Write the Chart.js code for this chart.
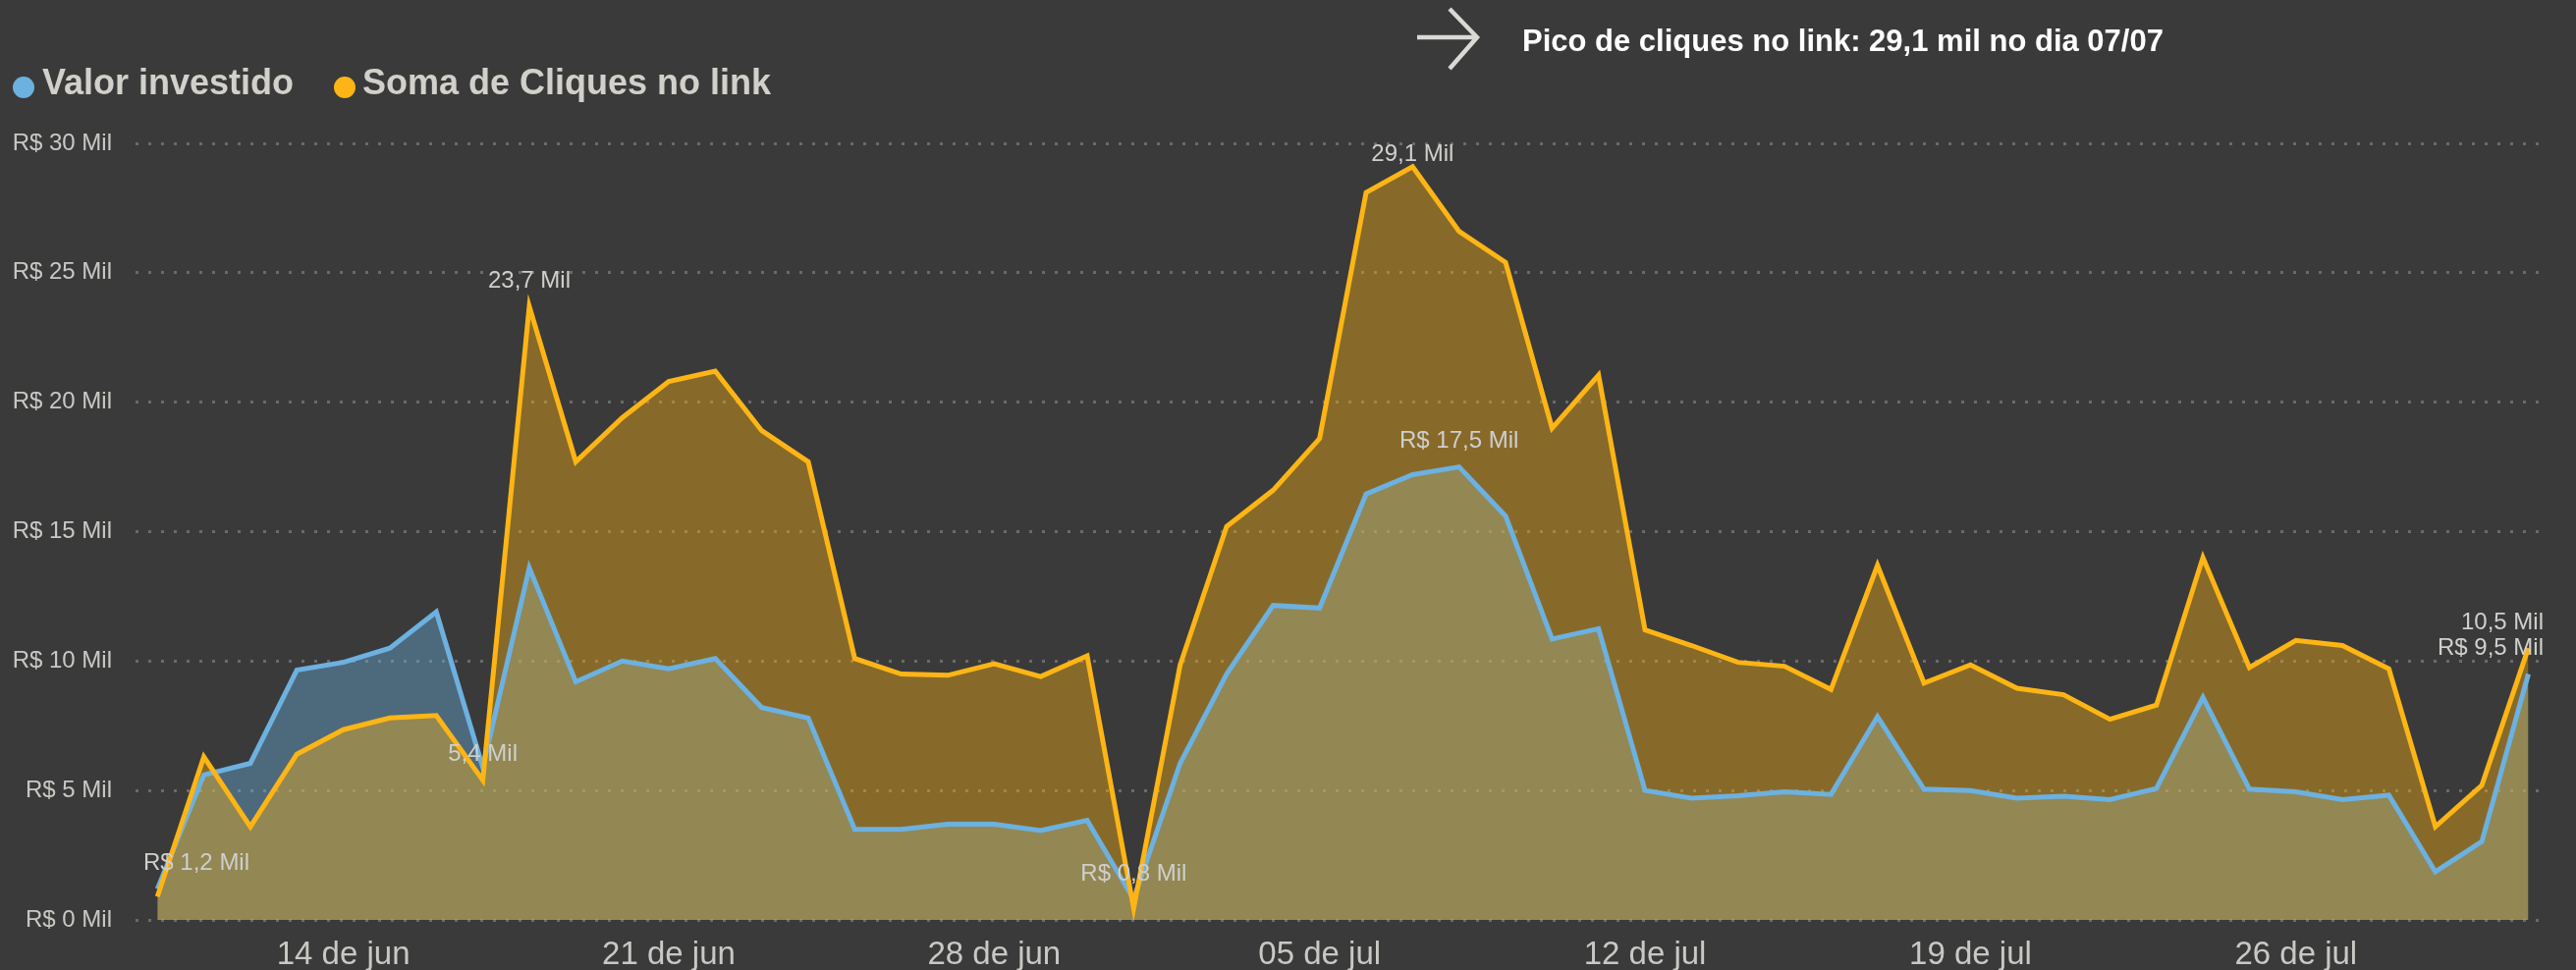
<!DOCTYPE html>
<html lang="pt-BR">
<head>
<meta charset="utf-8">
<title>Valor investido x Soma de Cliques no link</title>
<script src="https://cdn.jsdelivr.net/npm/chart.js@4.4.1/dist/chart.umd.min.js"></script>
<style>
  html, body { margin: 0; padding: 0; background: #3a3a3a; }
  #wrap { position: relative; width: 2623px; height: 988px; overflow: hidden; }
  #grafico { position: absolute; left: 0; top: 0; }
  .leg { position: absolute; top: 66px; font: bold 36px "Liberation Sans", Arial, sans-serif; line-height: 36px; color: #d2d0cb; white-space: nowrap; }
  .bola { position: absolute; top: 78px; width: 22px; height: 22px; border-radius: 50%; }
  #nota { position: absolute; left: 1550px; top: 26px; font: bold 31px "Liberation Sans", Arial, sans-serif; line-height: 31px; color: #ffffff; white-space: nowrap; }
  #seta { position: absolute; left: 1438px; top: 4px; }
</style>
</head>
<body>
<div id="wrap">
  <canvas id="grafico" width="2623" height="988"></canvas>
  <span class="bola" style="left:13px;background:#6cb1e0"></span>
  <span class="leg" style="left:43px">Valor investido</span>
  <span class="bola" style="left:340px;background:#fdb515"></span>
  <span class="leg" style="left:369px">Soma de Cliques no link</span>
  <svg id="seta" width="72" height="72" viewBox="0 0 72 72">
    <g fill="none" stroke="#d9d9d5" stroke-width="4.5" stroke-linecap="butt" stroke-linejoin="miter">
      <line x1="5" y1="34" x2="66" y2="34"/>
      <polyline points="38,5 66,34 38,66"/>
    </g>
  </svg>
  <div id="nota">Pico de cliques no link: 29,1 mil no dia 07/07</div>
</div>
<script>
// datas (dd/mm)
const datas = [
  '10/06','11/06','12/06','13/06','14/06','15/06','16/06','17/06','18/06','19/06',
  '20/06','21/06','22/06','23/06','24/06','25/06','26/06','27/06','28/06','29/06',
  '30/06','01/07','02/07','03/07','04/07','05/07','06/07','07/07','08/07','09/07',
  '10/07','11/07','12/07','13/07','14/07','15/07','16/07','17/07','18/07','19/07',
  '20/07','21/07','22/07','23/07','24/07','25/07','26/07','27/07','28/07','29/07',
  '30/07','31/07'
];

// valores em mil
const valorInvestido = [
  1.2, 5.6, 6.05, 9.65, 9.95, 10.5, 11.9, 5.9, 13.6, 9.2,
  10.0, 9.7, 10.1, 8.2, 7.8, 3.5, 3.5, 3.7, 3.7, 3.45,
  3.85, 0.8, 6.05, 9.5, 12.15, 12.05, 16.45, 17.2, 17.5, 15.6,
  10.85, 11.25, 5.0, 4.7, 4.8, 4.95, 4.85, 7.85, 5.05, 5.0,
  4.7, 4.78, 4.65, 5.08, 8.6, 5.05, 4.95, 4.65, 4.82, 1.86,
  3.03, 9.5
];
const cliquesNoLink = [
  0.9, 6.3, 3.6, 6.4, 7.35, 7.8, 7.9, 5.4, 23.7, 17.7,
  19.4, 20.8, 21.2, 18.9, 17.7, 10.1, 9.5, 9.45, 9.9, 9.4,
  10.2, 0.45, 9.85, 15.2, 16.6, 18.6, 28.1, 29.1, 26.6, 25.4,
  19.0, 21.05, 11.2, 10.6, 9.95, 9.8, 8.9, 13.7, 9.15, 9.85,
  8.95, 8.7, 7.75, 8.3, 14.0, 9.75, 10.8, 10.6, 9.7, 3.6,
  5.2, 10.5
];

const ticksDatas = ['14/06', '21/06', '28/06', '05/07', '12/07', '19/07', '26/07'];
const ticksRotulos = ['14 de jun', '21 de jun', '28 de jun', '05 de jul', '12 de jul', '19 de jul', '26 de jul'];
const ticksEixoY = [0, 5, 10, 15, 20, 25, 30];

// pontos com rótulo de dados
const rotulosValor = ['10/06', '01/07', '08/07', '31/07'];
const rotulosCliques = ['17/06', '18/06', '07/07', '31/07'];

const fonte = '"Liberation Sans", Arial, sans-serif';
const virgula = v => v.toFixed(1).replace('.', ',');

const rotulosPlugin = {
  id: 'rotulos',
  afterDatasetsDraw(chart) {
    const ctx = chart.ctx;
    const area = chart.chartArea;
    ctx.save();
    ctx.font = '24px ' + fonte;
    ctx.fillStyle = '#cfcfcc';
    ctx.textBaseline = 'middle';
    ctx.textAlign = 'left';
    chart.data.datasets.forEach((ds, di) => {
      const meta = chart.getDatasetMeta(di);
      ds.rotulos.forEach(d => {
        const i = datas.indexOf(d);
        const pt = meta.data[i];
        const txt = ds.formato(ds.data[i].y);
        const w = ctx.measureText(txt).width;
        let x = pt.x - w / 2;
        x = Math.max(area.left + 8, Math.min(x, area.right - 2 - w));
        const y = Math.max(pt.y - 26, area.top + 11);
        ctx.fillText(txt, x, y);
      });
    });
    ctx.restore();
  }
};

new Chart(document.getElementById('grafico').getContext('2d'), {
  type: 'line',
  data: {
    datasets: [
      {
        label: 'Soma de Cliques no link',
        data: cliquesNoLink.map((v, i) => ({ x: i, y: v })),
        borderColor: '#fdb515',
        backgroundColor: 'rgba(253, 181, 21, 0.4)',
        borderWidth: 5,
        borderJoinStyle: 'miter',
        pointRadius: 0,
        tension: 0,
        fill: 'origin',
        rotulos: rotulosCliques,
        formato: v => virgula(v) + ' Mil'
      },
      {
        label: 'Valor investido',
        data: valorInvestido.map((v, i) => ({ x: i, y: v })),
        borderColor: '#6cb1e0',
        backgroundColor: 'rgba(108, 177, 224, 0.4)',
        borderWidth: 5,
        borderJoinStyle: 'miter',
        pointRadius: 0,
        tension: 0,
        fill: 'origin',
        rotulos: rotulosValor,
        formato: v => 'R$ ' + virgula(v) + ' Mil'
      }
    ]
  },
  options: {
    responsive: false,
    animation: false,
    layout: { padding: { top: 146, right: 31, left: 0, bottom: 0 } },
    plugins: {
      legend: { display: false },
      tooltip: { enabled: false },
      filler: { drawTime: 'beforeDatasetsDraw' }
    },
    scales: {
      x: {
        type: 'linear',
        min: -0.47,
        max: 51.37,
        grid: { display: false },
        border: { display: false },
        afterBuildTicks: s => { s.ticks = ticksDatas.map(d => ({ value: datas.indexOf(d) })); },
        afterFit: s => { s.height = 51; },
        ticks: {
          callback: (v, i) => ticksRotulos[i],
          color: '#c8c8c4',
          font: { family: fonte, size: 33 },
          padding: 8,
          maxRotation: 0,
          autoSkip: false
        }
      },
      y: {
        min: 0,
        max: 30,
        afterBuildTicks: s => { s.ticks = ticksEixoY.map(v => ({ value: v })); },
        afterFit: s => { s.width = 138; },
        grid: { color: '#6a6a6a', lineWidth: 3, drawTicks: false },
        border: { display: false, dash: [3, 10] },
        ticks: {
          callback: v => 'R$ ' + v + ' Mil',
          color: '#c8c8c4',
          font: { family: fonte, size: 24 },
          padding: 24
        }
      }
    }
  },
  plugins: [rotulosPlugin]
});
</script>
</body>
</html>
